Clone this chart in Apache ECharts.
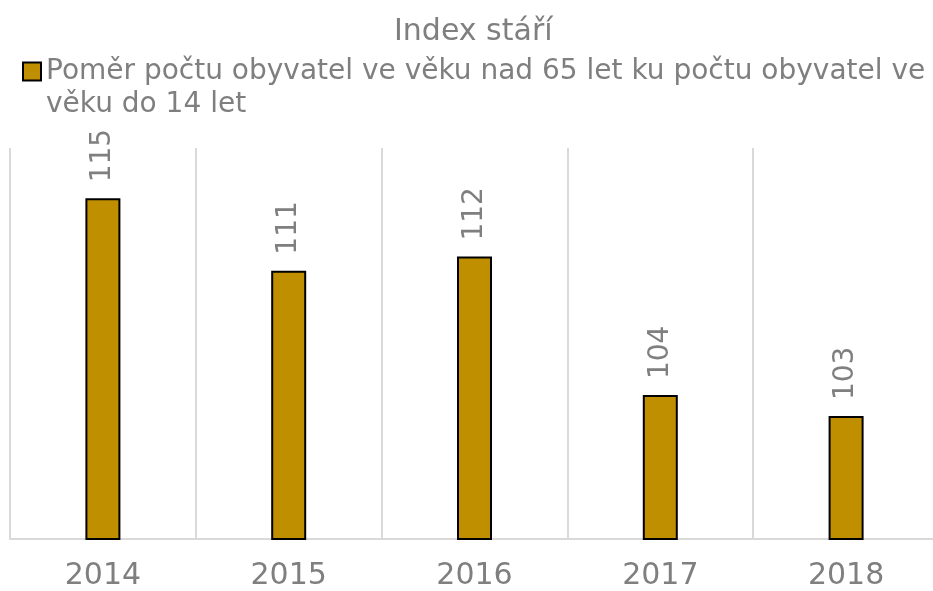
<!DOCTYPE html>
<html>
<head>
<meta charset="utf-8">
<script src="https://cdn.jsdelivr.net/npm/echarts@6/dist/echarts.min.js"></script>
<style>
  html, body { margin: 0; padding: 0; background: #fff; }
  #chart { width: 933px; height: 591px; }
</style>
</head>
<body>
<div id="chart"></div>
<script>
  const years = ['2014', '2015', '2016', '2017', '2018'];
  const indexValues = [115.17, 111.10, 111.89, 104.10, 102.92];
  const seriesName = 'Poměr počtu obyvatel ve věku nad 65 let ku počtu obyvatel ve věku do 14 let';

  const gray = '#7f7f7f';
  const font = 'DejaVu Sans';

  // wrap the long legend text before the last "věku", marker stays on line one
  const wrapLegend = (name) => {
    const cut = name.lastIndexOf(' věku');
    return '\n' + name.slice(0, cut) + '\n' + name.slice(cut + 1);
  };

  const chart = echarts.init(document.getElementById('chart'));
  chart.setOption({
    animation: false,
    textStyle: { fontFamily: font },
    title: {
      text: 'Index stáří',
      left: 394,
      top: 17,
      padding: 0,
      textStyle: { color: gray, fontSize: 30, fontWeight: 'normal', fontFamily: font },
    },
    legend: {
      left: 22,
      top: 22,
      padding: 0,
      itemWidth: 18,
      itemHeight: 18,
      itemGap: 0,
      icon: 'rect',
      formatter: wrapLegend,
      textStyle: {
        color: gray,
        fontSize: 28,
        fontFamily: font,
        lineHeight: 33,
      },
    },
    grid: { left: 10, width: 929, top: 148, bottom: 52, outerBoundsMode: 'none' },
    xAxis: {
      type: 'category',
      data: years,
      axisLine: { lineStyle: { color: '#d9d9d9', width: 2 } },
      axisTick: { show: false },
      splitLine: { show: true, lineStyle: { color: '#d9d9d9', width: 2 } },
      axisLabel: { color: gray, fontSize: 30, margin: 22, fontFamily: font },
    },
    yAxis: {
      type: 'value',
      min: 96,
      max: 118,
      show: false,
      splitLine: { show: false },
    },
    series: [
      {
        name: seriesName,
        type: 'bar',
        data: indexValues,
        barWidth: 35,
        itemStyle: { color: '#bf8f00', borderColor: '#000', borderWidth: 2 },
        label: {
          show: true,
          position: 'top',
          rotate: 90,
          align: 'left',
          verticalAlign: 'middle',
          distance: 16,
          color: gray,
          fontSize: 28,
          fontFamily: font,
          formatter: (p) => Math.round(p.value),
        },
      },
    ],
  });
</script>
</body>
</html>
